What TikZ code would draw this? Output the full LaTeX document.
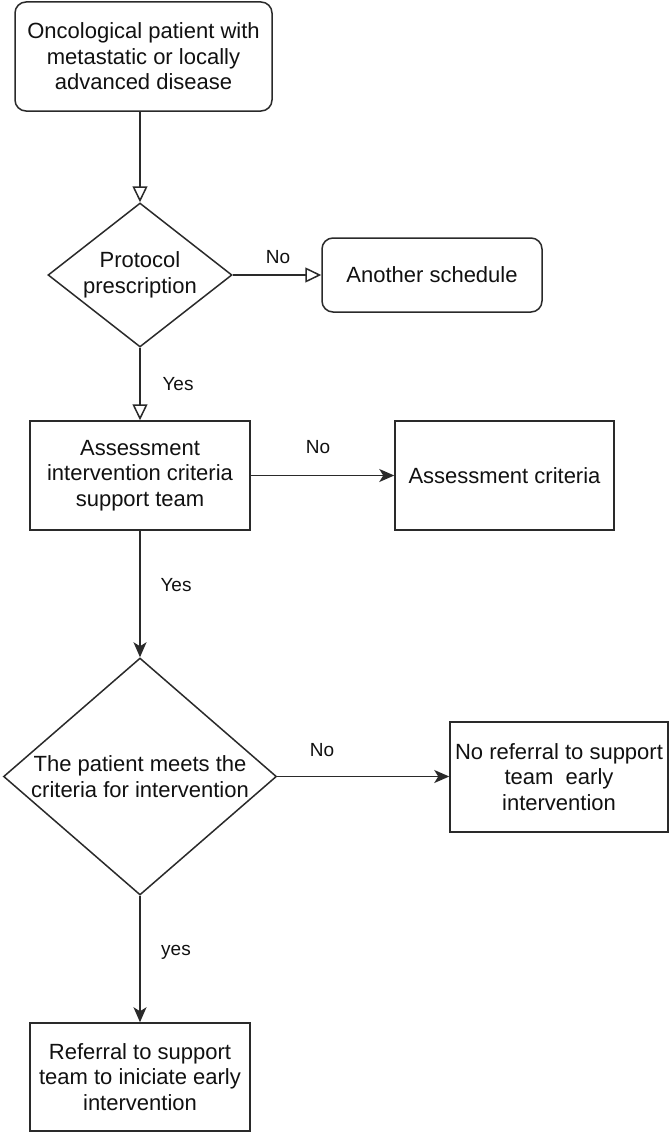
\documentclass[tikz,border=0pt]{standalone}
\usepackage{fontspec}
\setmainfont{Liberation Sans}
\usetikzlibrary{shapes.geometric,arrows.meta}
\definecolor{ln}{HTML}{2A2A2A}
\definecolor{tx}{HTML}{111111}
\begin{document}
\begin{tikzpicture}[x=1pt,y=-1pt,
  box/.style={draw=ln, line width=1.5pt, text=tx, align=center, inner sep=0pt, font=\fontsize{22}{25.5}\selectfont},
  rbox/.style={box, rounded corners=11pt},
  dia/.style={draw=ln, line width=1.5pt, diamond, inner sep=0pt},
  dtext/.style={text=tx, align=center, font=\fontsize{22}{25.5}\selectfont, inner sep=0pt},
  lbl/.style={text=tx, font=\fontsize{19}{22}\selectfont, inner sep=0pt},
  openarr/.style={draw=ln, line width=1.5pt, -{Triangle[open, fill=white, length=16pt, width=15pt]}},
  solidarr/.style={draw=ln, line width=1.6pt, -{Stealth[length=15pt, width=13pt, inset=4pt]}},
]
\useasboundingbox (0,0) rectangle (669,1132);
\fill[white] (0,0) rectangle (669,1132);

\node[rbox, minimum width=257pt, minimum height=109pt] (start) at (143.5,56.5)
  {Oncological patient with\\metastatic or locally\\advanced disease};

\node[dia, minimum width=184pt, minimum height=144pt] (d1) at (140,275) {};
\node[dtext] (d1t) at (d1.center) {Protocol\\prescription};

\node[rbox, minimum width=220pt, minimum height=74pt] (other) at (432,275) {Another schedule};

\node[box, minimum width=220pt, minimum height=109pt] (assess) at (140,475.5)
  {Assessment\\intervention criteria\\support team};

\node[box, minimum width=219pt, minimum height=109pt] (crit) at (504.5,475.5) {Assessment criteria};

\node[dia, minimum width=273pt, minimum height=237pt] (d2) at (140,776.5) {};
\node[dtext] (d2t) at (d2.center) {The patient meets the\\criteria for intervention};

\node[box, minimum width=218pt, minimum height=110pt] (noref) at (559,777)
  {No referral to support\\team\ \ early\\intervention};

\node[box, minimum width=220pt, minimum height=108pt] (ref) at (140,1077)
  {Referral to support\\team to iniciate early\\intervention};

\draw[openarr] (start.south -| d1.north) -- (d1.north);
\draw[openarr] (d1.east) -- (other.west);
\draw[openarr] (d1.south) -- (assess.north);
\draw[solidarr] (assess.east) -- (crit.west);
\draw[solidarr] (assess.south) -- (d2.north);
\draw[solidarr] (d2.east) -- (d2.east -| noref.west);
\draw[solidarr] (d2.south) -- (ref.north);

\node[lbl] (l1) at (278,257) {No};
\node[lbl] (l2) at (178,384) {Yes};
\node[lbl] (l3) at (318,447) {No};
\node[lbl] (l4) at (176,585) {Yes};
\node[lbl] (l5) at (322,750) {No};
\node[lbl] (l6) at (176,952) {yes};
\end{tikzpicture}
\end{document}
